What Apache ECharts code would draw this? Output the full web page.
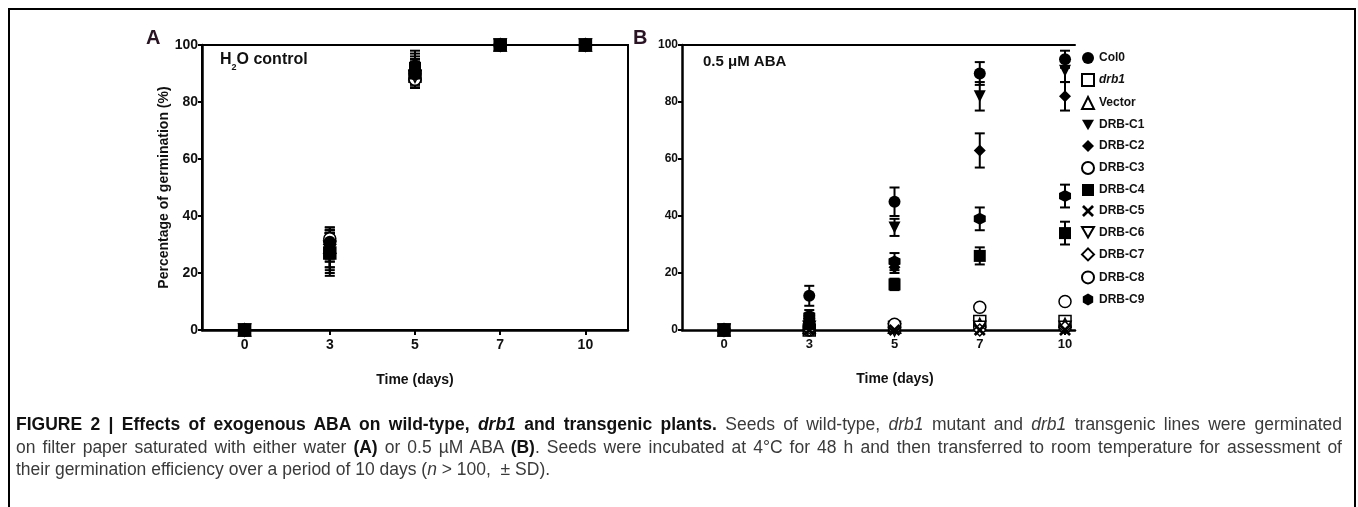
<!DOCTYPE html>
<html>
<head>
<meta charset="utf-8">
<script src="https://cdn.jsdelivr.net/npm/echarts@6/dist/echarts.min.js"></script>
<style>
html, body { margin: 0; padding: 0; background: #fff; }
#wrap { position: relative; width: 1358px; height: 507px; overflow: hidden; }
#chart { position: absolute; left: 0; top: 0; width: 1358px; height: 507px; }
#frame { position: absolute; left: 8px; top: 8px; width: 1348px; height: 520px; border: 2px solid #000; border-bottom: none; box-sizing: border-box; pointer-events: none; }
#caption { position: absolute; left: 16px; top: 413px; width: 1326px; font-family: "Liberation Sans", Arial, sans-serif; font-size: 17.5px; line-height: 22.5px; color: #3a3a3a; }
#caption .j { text-align: justify; text-align-last: justify; white-space: nowrap; }
#caption b { color: #111; }
</style>
</head>
<body>
<div id="wrap">
  <div id="chart"></div>
  <div id="frame"></div>
  <div id="caption">
    <div class="j"><b>FIGURE 2 | Effects of exogenous ABA on wild-type, <i>drb1</i> and transgenic plants.</b> Seeds of wild-type, <i>drb1</i> mutant and <i>drb1</i> transgenic lines were germinated</div>
    <div class="j">on filter paper saturated with either water <b>(A)</b> or 0.5 &micro;M ABA <b>(B)</b>. Seeds were incubated at 4&deg;C for 48 h and then transferred to room temperature for assessment of</div>
    <div>their germination efficiency over a period of 10 days (<i>n</i> &gt; 100, &nbsp;&plusmn; SD).</div>
  </div>
</div>
<script>
// time points (days) and lines
var days = ['0', '3', '5', '7', '10'];
var lines = ['Col0', 'drb1', 'Vector', 'DRB-C1', 'DRB-C2', 'DRB-C3', 'DRB-C4', 'DRB-C5', 'DRB-C6', 'DRB-C7', 'DRB-C8', 'DRB-C9'];

// A: H2O control, germination % (mean, SD)
var waterMean = [
  [0, 31, 92, 100, 100],
  [0, 27, 89, 100, 100],
  [0, 29, 90, 100, 100],
  [0, 28, 91, 100, 100],
  [0, 30, 90, 100, 100],
  [0, 31, 88, 100, 100],
  [0, 27, 90, 100, 100],
  [0, 28, 92, 100, 100],
  [0, 29, 89, 100, 100],
  [0, 30, 91, 100, 100],
  [0, 32, 90, 100, 100],
  [0, 27, 93, 100, 100]
];
var waterSd = [
  [0, 5, 4, 0, 0],
  [0, 6, 4, 0, 0],
  [0, 5, 3, 0, 0],
  [0, 6, 4, 0, 0],
  [0, 5, 5, 0, 0],
  [0, 4, 3, 0, 0],
  [0, 7, 4, 0, 0],
  [0, 6, 5, 0, 0],
  [0, 5, 4, 0, 0],
  [0, 4, 4, 0, 0],
  [0, 4, 5, 0, 0],
  [0, 8, 5, 0, 0]
];

// B: 0.5 uM ABA, germination % (mean, SD)
var abaMean = [
  [0, 12, 45, 90, 95],
  [0, 0, 1, 3, 3],
  [0, 1, 1, 2, 2],
  [0, 3, 36, 82, 91],
  [0, 4, 22, 63, 82],
  [0, 0, 1, 1, 1],
  [0, 2, 16, 26, 34],
  [0, 0, 0, 0, 0],
  [0, 1, 0, 1, 1],
  [0, 0, 1, 0, 1],
  [0, 1, 2, 8, 10],
  [0, 5, 24, 39, 47]
];
var abaSd = [
  [0, 3.5, 5, 4, 3],
  [0, 0, 1, 1, 1],
  [0, 1, 1, 1, 1],
  [0, 1, 3, 5, 4],
  [0, 1, 2, 6, 5],
  [0, 0, 1, 1, 1],
  [0, 1, 2, 3, 4],
  [0, 0, 0, 0, 0],
  [0, 1, 0, 1, 1],
  [0, 0, 1, 0, 1],
  [0, 1, 1, 1, 1],
  [0, 2, 3, 4, 4]
];

var OPEN = { color: '#fff', borderColor: '#000', borderWidth: 1.5, opacity: 1 };
var FILL = { color: '#000', opacity: 1 };
var CROSS = 'path://M0,1.6L1.6,0L5,3.4L8.4,0L10,1.6L6.6,5L10,8.4L8.4,10L5,6.6L1.6,10L0,8.4L3.4,5Z';
var HEX = 'path://M5,0L9.33,2.5L9.33,7.5L5,10L0.67,7.5L0.67,2.5Z';
var DOWN = 'path://M0,0L10,0L5,8.66Z';
var marks = [
  { symbol: 'circle', style: FILL },
  { symbol: 'rect', style: OPEN },
  { symbol: 'triangle', style: OPEN },
  { symbol: DOWN, style: FILL },
  { symbol: 'diamond', style: FILL },
  { symbol: 'circle', style: OPEN },
  { symbol: 'rect', style: FILL },
  { symbol: CROSS, style: FILL },
  { symbol: DOWN, style: OPEN },
  { symbol: 'diamond', style: OPEN },
  { symbol: 'circle', style: OPEN },
  { symbol: HEX, style: FILL }
];

var FONT = '"Liberation Sans", Arial, sans-serif';
var NAME_STYLE = { color: '#111', fontFamily: FONT, fontWeight: 'bold', fontSize: 14 };

function errBar(params, api) {
  var x = api.value(0), m = api.value(1), s = api.value(2);
  if (!s) return;
  var hi = api.coord([x, Math.min(100, m + s)]);
  var lo = api.coord([x, Math.max(0, m - s)]);
  var w = 5;
  var st = { stroke: '#000', lineWidth: 2 };
  return {
    type: 'group',
    children: [
      { type: 'line', shape: { x1: hi[0], y1: hi[1], x2: lo[0], y2: lo[1] }, style: st },
      { type: 'line', shape: { x1: hi[0] - w, y1: hi[1], x2: hi[0] + w, y2: hi[1] }, style: st },
      { type: 'line', shape: { x1: lo[0] - w, y1: lo[1], x2: lo[0] + w, y2: lo[1] }, style: st }
    ]
  };
}

function panelSeries(p, mean, sd) {
  var out = [];
  lines.forEach(function (name, i) {
    out.push({
      type: 'custom', xAxisIndex: p, yAxisIndex: p, renderItem: errBar, silent: true, z: 1,
      data: mean[i].map(function (m, j) { return [j, m, sd[i][j]]; })
    });
  });
  lines.forEach(function (name, i) {
    out.push({
      type: 'scatter', name: name, xAxisIndex: p, yAxisIndex: p,
      symbol: marks[i].symbol, symbolSize: 12,
      z: marks[i].style === OPEN ? 2 : 3,
      itemStyle: marks[i].style,
      data: mean[i].map(function (m, j) { return [j, m]; })
    });
  });
  return out;
}

var dayIdx = days.map(function (d, j) { return j; });
function xAx(grid, size, axMin, axMax, name) {
  return {
    type: 'value', gridIndex: grid, min: axMin, max: axMax,
    axisLine: { onZero: false, lineStyle: { color: '#000', width: 2.5 } },
    axisTick: { show: true, customValues: dayIdx, length: 5, lineStyle: { color: '#000', width: 2 } },
    axisLabel: { customValues: dayIdx, formatter: function (v) { return days[v]; },
      color: '#111', fontFamily: FONT, fontWeight: 'bold', fontSize: size, margin: 8 },
    splitLine: { show: false },
    name: name, nameLocation: 'middle', nameGap: 43, nameTextStyle: NAME_STYLE
  };
}
function yAx(grid, size) {
  return {
    type: 'value', gridIndex: grid, min: 0, max: 100, interval: 20,
    axisLine: { show: true, onZero: false, lineStyle: { color: '#000', width: 2.5 } },
    axisTick: { show: true, length: 4, lineStyle: { color: '#000', width: 2 } },
    axisLabel: { color: '#111', fontFamily: FONT, fontWeight: 'bold', fontSize: size, margin: 4 },
    splitLine: { show: false }
  };
}

var chart = echarts.init(document.getElementById('chart'));
var yA = yAx(0, 14);
yA.name = 'Percentage of germination (%)';
yA.nameLocation = 'middle';
yA.nameGap = 31;
yA.nameTextStyle = NAME_STYLE;
var topB = {
  type: 'value', gridIndex: 1, position: 'top', min: -0.4927, max: 4.117,
  axisLine: { show: true, onZero: false, lineStyle: { color: '#000', width: 2 } },
  axisTick: { show: false }, axisLabel: { show: false }, splitLine: { show: false }
};

chart.setOption({
  animation: false,
  grid: [
    { left: 202, top: 45, width: 426, height: 285, show: true, borderColor: '#000', borderWidth: 2 },
    { left: 682, top: 45, width: 393, height: 285 }
  ],
  xAxis: [xAx(0, 14, -0.5, 4.5, 'Time (days)'), xAx(1, 13, -0.4927, 4.117, ''), topB],
  yAxis: [yA, yAx(1, 12)],
  legend: {
    orient: 'vertical', left: 1076, top: 47, itemWidth: 12, itemHeight: 12, itemGap: 9,
    data: lines, selectedMode: false,
    textStyle: { color: '#111', fontFamily: FONT, fontWeight: 'bold', fontSize: 12,
      rich: { i: { fontStyle: 'italic', fontWeight: 'bold', fontFamily: FONT, fontSize: 12, color: '#111' } } },
    formatter: function (n) { return n === 'drb1' ? '{i|drb1}' : n; }
  },
  graphic: [
    { type: 'text', left: 146, top: 28, style: { text: 'A', fill: '#2a1424', font: 'bold 20px ' + FONT } },
    { type: 'text', left: 633, top: 28, style: { text: 'B', fill: '#2a1424', font: 'bold 20px ' + FONT } },
    { type: 'text', left: 220, top: 52, style: {
        text: 'H{s|2}O control', fill: '#111', font: 'bold 16px ' + FONT,
        rich: { s: { fontSize: 9, fontWeight: 'bold', fontFamily: FONT, verticalAlign: 'bottom', padding: [0, 0, -4, 0] } } } },
    { type: 'text', left: 703, top: 54, style: { text: '0.5 \u03bcM ABA', fill: '#111', font: 'bold 15px ' + FONT } },
    { type: 'text', x: 895, y: 379, style: { text: 'Time (days)', fill: '#111', font: 'bold 14px ' + FONT, align: 'center', verticalAlign: 'middle' } }
  ],
  series: panelSeries(0, waterMean, waterSd).concat(panelSeries(1, abaMean, abaSd))
});
</script>
</body>
</html>
